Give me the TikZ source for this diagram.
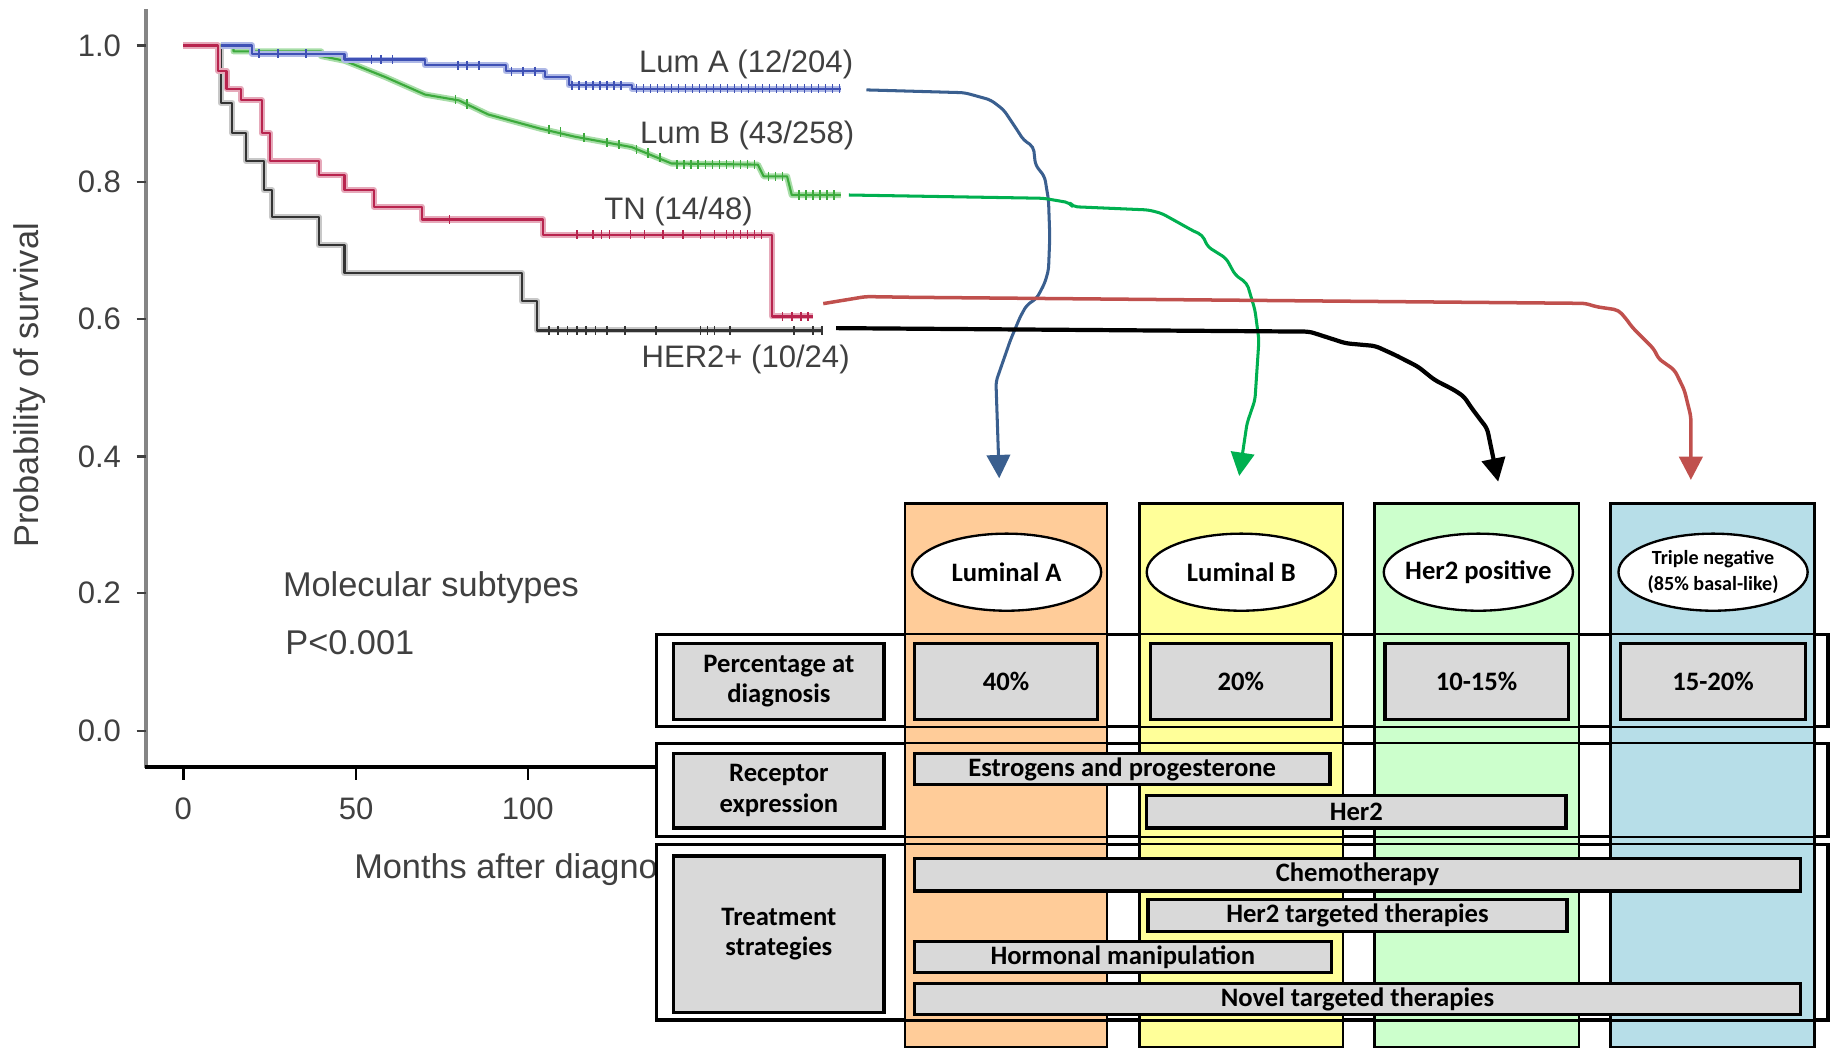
\documentclass[tikz,border=0pt]{standalone}
\usepackage{fontspec}
\setmainfont{Liberation Sans}
\newfontfamily\calfont{Carlito}
\usetikzlibrary{arrows.meta,shapes.geometric,fit}
\definecolor{plotgray}{HTML}{404040}
\definecolor{axisgray}{HTML}{858585}
\definecolor{kmblue}{HTML}{3F51B5}
\definecolor{kmblueL}{HTML}{AEB8E6}
\definecolor{kmgreen}{HTML}{3CAA3C}
\definecolor{kmgreenL}{HTML}{A8DDA8}
\definecolor{kmred}{HTML}{B8244E}
\definecolor{kmredL}{HTML}{E6A9BA}
\definecolor{kmblack}{HTML}{333333}
\definecolor{kmblackL}{HTML}{C8C8C8}
\definecolor{colAc}{HTML}{FFCC99}
\definecolor{colBc}{HTML}{FFFF99}
\definecolor{colCc}{HTML}{CCFFCC}
\definecolor{colDc}{HTML}{B7DEE8}
\definecolor{boxgray}{HTML}{D9D9D9}
\definecolor{arrBlue}{HTML}{3A5F8F}
\definecolor{arrGreen}{HTML}{00B050}
\definecolor{arrRed}{HTML}{C0504D}
\newcommand\tabfont{\calfont\bfseries\fontsize{11.4}{13}\selectfont}
\newcommand\plotfont{\fontsize{13.3}{15}\selectfont}
\begin{document}
\begin{tikzpicture}[x=0.5pt,y=-0.5pt,
  plottxt/.style={font=\plotfont, text=plotgray, inner sep=0pt},
  bigtxt/.style={font=\fontsize{14.7}{16}\selectfont, text=plotgray, inner sep=0pt},
  rowbox/.style={draw=black, fill=white, line width=0.9pt, inner sep=0pt},
  colbox/.style={draw=black, line width=1.1pt, inner sep=0pt},
  gbox/.style={draw=black, fill=boxgray, line width=1.4pt, inner sep=0pt},
  tabtxt/.style={font=\tabfont, align=center, inner sep=0pt},
  oval/.style={ellipse, draw=black, fill=white, line width=1pt, inner sep=0pt, minimum width=81pt, minimum height=33pt},
  conn/.style={-{Triangle[length=10pt,width=10pt]}, line join=round, rounded corners=2pt},
  band/.style={line width=2.6pt, line join=round},
  kmline/.style={line width=0.9pt, line join=round},
  cens/.style={line width=0.7pt}]
\useasboundingbox (0,0) rectangle (1568,897);

% ---------- axes ----------
\draw[axisgray, line width=1.6pt] (125,8) -- (125,658);
\draw[black, line width=1.6pt] (124,657) -- (760,657);
\foreach \v/\yy in {1.0/39,0.8/156,0.6/273,0.4/391,0.2/508,0.0/626}{
  \draw[plotgray, line width=1pt] (117,\yy) -- (125,\yy);
  \node[plottxt, anchor=east] (yt\yy) at (104,\yy) {\v};
}
\foreach \m/\xx in {0/157,50/305,100/452}{
  \draw[black, line width=1pt] (\xx,657) -- (\xx,668);
  \node[plottxt] (xt\xx) at (\xx,693) {\m};
}
\node[bigtxt, rotate=90] (ylab) at (25,330) {Probability of survival};
\node[bigtxt, anchor=west] (xlab) at (303,745) {Months after diagnosis};
\node[bigtxt, anchor=west] (molsub) at (242,503) {Molecular subtypes};
\node[bigtxt, anchor=west] (pval) at (244,550) {P<0.001};

% ---------- KM curves ----------
\def\pathH{(189,39) -- (189,88) -- (199,88) -- (199,114) -- (211,114) -- (211,138) -- (226,138) -- (226,163) -- (233,163) -- (233,186) -- (273,186) -- (273,210) -- (295,210) -- (295,234) -- (447,234) -- (447,258) -- (460,258) -- (460,283) -- (705,283)}
\def\pathT{(157,39) -- (187,39) -- (187,61) -- (194,61) -- (194,76) -- (206,76) -- (206,86) -- (224,86) -- (224,114) -- (231,114) -- (231,138) -- (273,138) -- (273,150) -- (295,150) -- (295,163) -- (320,163) -- (320,177) -- (361,177) -- (361,188) -- (465,188) -- (465,201) -- (661,201) -- (661,271) -- (696,271)}
\def\pathG{(189,39) -- (200,39) -- (200,44) -- (275,44) -- (275,48) -- (295,52) -- (330,66) -- (364,81) -- (393,86) -- (418,98) -- (462,110) -- (492,117) -- (541,126) -- (575,140) -- (649,141) -- (654,151) -- (674,151) -- (678,167) -- (720,167)}
\def\pathA{(189,39) -- (216,39) -- (216,46) -- (295,46) -- (295,51) -- (364,51) -- (364,56) -- (433,56) -- (433,61) -- (467,61) -- (467,66) -- (487,66) -- (487,73) -- (541,73) -- (541,76) -- (720,76)}
\draw[band, kmblackL] \pathH; \draw[kmline, kmblack] \pathH;
\draw[band, kmredL] \pathT; \draw[kmline, kmred] \pathT;
\draw[band, kmgreenL] \pathG; \draw[kmline, kmgreen] \pathG;
\draw[band, kmblueL] \pathA; \draw[kmline, kmblue] \pathA;
% censor marks
\foreach \x in {470,478,486,494,502,510,520,535,562,600,606,612,625,680,696,704} \draw[cens, kmblack] (\x,279) -- (\x,287);
\foreach \x in {494,508,515,522,540,552,568,585,600,612,622,628,634,640,646,652} \draw[cens, kmred] (\x,197) -- (\x,205);
\draw[cens, kmred] (385,184) -- (385,192);
\foreach \x in {670,678,686,692} \draw[cens, kmred] (\x,267) -- (\x,275);
\foreach \x/\yy in {390/85,400/89,470/111,480/113,500/118,520/122,530/124,545/128,555/131,565/135} \draw[cens, kmgreen] (\x,\yy-4) -- (\x,\yy+4);
\foreach \x in {580,586,...,646} \draw[cens, kmgreen] (\x,137) -- (\x,145);
\foreach \x in {658,664,670} \draw[cens, kmgreen] (\x,147) -- (\x,155);
\foreach \x in {684,690,...,718} \draw[cens, kmgreen] (\x,163) -- (\x,171);
\foreach \x/\yy in {222/46,238/46,262/46,318/51,326/51,336/51,392/56,400/56,410/56,438/61,448/61,458/61} \draw[cens, kmblue] (\x,\yy-4) -- (\x,\yy+4);
\foreach \x in {490,496,...,536} \draw[cens, kmblue] (\x,69) -- (\x,77);
\foreach \x in {545,551,...,719} \draw[cens, kmblue] (\x,72) -- (\x,80);
% curve labels
\node[plottxt, anchor=east] (labA) at (731,55) {Lum A (12/204)};
\node[plottxt, anchor=east] (labB) at (732,116) {Lum B (43/258)};
\node[plottxt, anchor=east] (labT) at (645,181) {TN (14/48)};
\node[plottxt, anchor=east] (labH) at (728,308) {HER2+ (10/24)};

% ---------- table ----------
\node[rowbox, fit={(563,544) (1565,622)}] (row1) {};
\node[rowbox, fit={(563,637) (1565,716)}] (row2) {};
\node[rowbox, fit={(563,724) (1565,873)}] (row3) {};
\node[colbox, fill=colAc, fit={(775,431) (948,897)}] (colA) {};
\node[colbox, fill=colBc, fit={(976,431) (1150,897)}] (colB) {};
\node[colbox, fill=colCc, fit={(1177,431) (1352,897)}] (colC) {};
\node[colbox, fill=colDc, fit={(1379,431) (1554,897)}] (colD) {};
\foreach \r in {row1,row2,row3} \draw[black, line width=0.9pt] (\r.north west) rectangle (\r.south east);

\node[oval] (ovA) at (862,490) {};
\node[oval] (ovB) at (1063,490) {};
\node[oval] (ovC) at (1266,490) {};
\node[oval] (ovD) at (1467,490) {};
\node[tabtxt] (ovAt) at (ovA.center) {Luminal A};
\node[tabtxt] (ovBt) at (ovB.center) {Luminal B};
\node[tabtxt] (ovCt) at (ovC.center) {Her2 positive};
\node[tabtxt, font=\calfont\bfseries\fontsize{8.6}{11}\selectfont] (ovDt) at (ovD.center) {Triple negative\\(85\% basal-like)};

\node[gbox, fit={(577,551) (757,616)}] (lab1) {};
\node[gbox, fit={(577,645) (757,709)}] (lab2) {};
\node[gbox, fit={(577,733) (757,867)}] (lab3) {};
\node[gbox, fit={(783,551) (940,616)}] (pA) {};
\node[gbox, fit={(985,551) (1140,616)}] (pB) {};
\node[gbox, fit={(1186,551) (1343,616)}] (pC) {};
\node[gbox, fit={(1388,551) (1546,616)}] (pD) {};
\node[gbox, fit={(783,645) (1139,672)}] (estr) {};
\node[gbox, fit={(982,681) (1341,709)}] (her2) {};
\node[gbox, fit={(783,735) (1542,763)}] (chemo) {};
\node[gbox, fit={(983,770) (1342,798)}] (htt) {};
\node[gbox, fit={(783,806) (1140,833)}] (horm) {};
\node[gbox, fit={(783,842) (1542,869)}] (novel) {};

\node[tabtxt] (lab1t) at (lab1.center) {Percentage at\\diagnosis};
\node[tabtxt] (lab2t) at (lab2.center) {Receptor\\expression};
\node[tabtxt] (lab3t) at (lab3.center) {Treatment\\strategies};
\node[tabtxt] (pAt) at (pA.center) {40\%};
\node[tabtxt] (pBt) at (pB.center) {20\%};
\node[tabtxt] (pCt) at (pC.center) {10-15\%};
\node[tabtxt] (pDt) at (pD.center) {15-20\%};
\node[tabtxt] (estrt) at (estr.center) {Estrogens and progesterone};
\node[tabtxt] (her2t) at (her2.center) {Her2};
\node[tabtxt] (chemot) at (chemo.center) {Chemotherapy};
\node[tabtxt] (httt) at (htt.center) {Her2 targeted therapies};
\node[tabtxt] (hormt) at (horm.center) {Hormonal manipulation};
\node[tabtxt] (novelt) at (novel.center) {Novel targeted therapies};

% ---------- connectors ----------
\coordinate (eA) at (742,77);
\coordinate (eB) at (727,167);
\coordinate (eC) at (716,281);
\coordinate (eD) at (705,260);
\coordinate (tA) at (855.7,409.6);
\coordinate (tB) at (1061.2,407.6);
\coordinate (tC) at (1283,412.5);
\coordinate (tD) at (1448,411);

\draw[conn, arrBlue, line width=1.3pt] (eA) -- (826,79.4) -- (848.4,85.6) -- (859.6,94.2) -- (871,111.3) -- (876.5,119.9) -- (885,125.6) -- (886.7,141.3) -- (894.6,151.3) -- (897.9,171.3) -- (899,202.7) -- (897.9,231.2) -- (894.6,242.6) -- (887.8,255.5) -- (879.3,261.2) -- (873.7,271.2) -- (865.3,291.2) -- (852.9,326.9) -- (tA);
\draw[conn, arrGreen, line width=1.3pt] (eB) -- (893.5,169.8) -- (916,173.6) -- (918.7,177) -- (983.5,179.8) -- (994.8,182.7) -- (1023,198.4) -- (1029.7,201.2) -- (1034.2,211.3) -- (1050,221.2) -- (1057.8,235.5) -- (1067.9,242.6) -- (1074.7,265.5) -- (1078.1,291.2) -- (1074.7,342.5) -- (1067.9,362.5) -- (tB);
\draw[conn, arrRed, line width=1.5pt] (eD) -- (741.4,254) -- (780.8,254.6) -- (1358,259.8) -- (1366.4,262.6) -- (1386,265.5) -- (1393.3,274) -- (1397.3,279.8) -- (1408.6,291.2) -- (1417,299.7) -- (1419.9,306.9) -- (1434,316.9) -- (1442.4,334) -- (1448,356.8) -- (tD);
\draw[conn, black, line width=1.8pt] (eC) -- (1121.4,284) -- (1152.4,294) -- (1177.8,296.3) -- (1194.7,304) -- (1214.3,314) -- (1228.5,325.4) -- (1245.3,334) -- (1253.8,339.7) -- (1259.4,348.3) -- (1267.9,359.7) -- (1273.5,366.8) -- (tC);
\end{tikzpicture}
\end{document}
